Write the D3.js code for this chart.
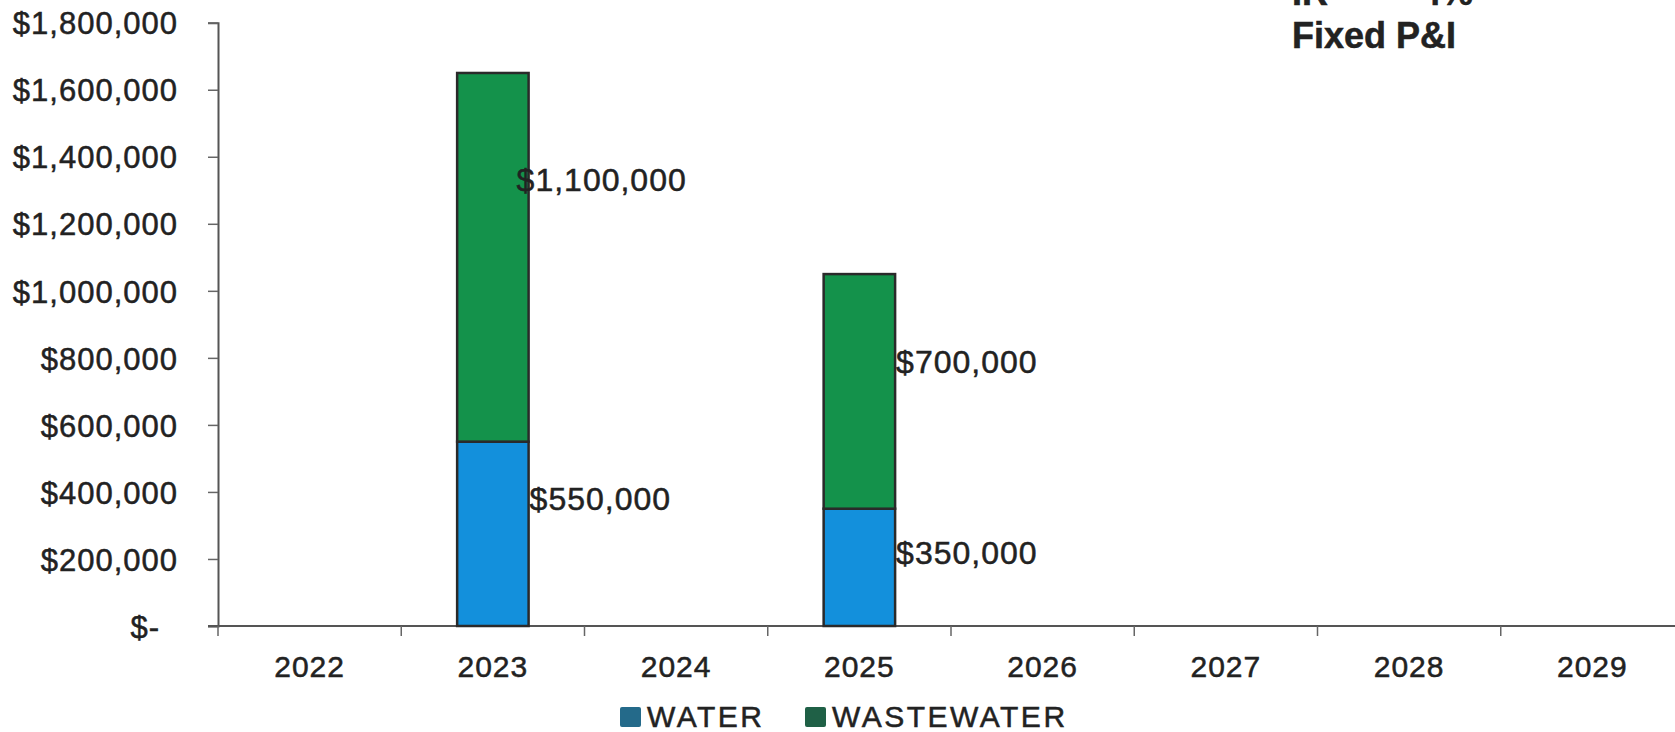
<!DOCTYPE html>
<html>
  <head>
	<meta charset="UTF-8">
    <title>Water / Wastewater stacked bars</title>
	<script src="https://cdn.jsdelivr.net/npm/d3@7"></script>
	<style>
		body { margin: 0; background: #fff; }
		text { font-family: "Liberation Sans", Arial, sans-serif; fill: #222; stroke: #222; stroke-width: 0.5px; }
	</style>
  </head>
  <body>
    <svg width="1675" height="732"></svg>
    <script>
    	// data
    	var years = ["2022", "2023", "2024", "2025", "2026", "2027", "2028", "2029"];
    	var water = [0, 550000, 0, 350000, 0, 0, 0, 0];
    	var wastewater = [0, 1100000, 0, 700000, 0, 0, 0, 0];
    	var seriesNames = ["WATER", "WASTEWATER"];
    	var yTicks = [0, 200000, 400000, 600000, 800000, 1000000, 1200000, 1400000, 1600000, 1800000];

    	var barColors = ["#1390dc", "#14924b"];
    	var legendColors = ["#246a8a", "#1f6046"];

    	var svg = d3.select("svg");

    	var rows = years.map(function(y, i) {
    		return {year: y, WATER: water[i], WASTEWATER: wastewater[i]};
    	});

    	var x = d3.scaleBand()
    		.domain(years)
    		.range([218, 1684])
    		.paddingInner(0.61)
    		.paddingOuter(0.305);

    	var y = d3.scaleLinear()
    		.domain([0, 1800000])
    		.range([626, 22.7]);

    	var fmt = d3.format(",");

    	// y axis
    	var yAxis = svg.append("g")
    		.attr("transform", "translate(218,0)")
    		.call(d3.axisLeft(y).tickValues(yTicks).tickSize(10).tickPadding(30)
    			.tickFormat(function(d) { return d === 0 ? "$-" : "$" + fmt(d); }));
    	yAxis.select(".domain").attr("stroke", "#555").attr("stroke-width", 2);
    	yAxis.selectAll(".tick line").attr("stroke", "#666").attr("stroke-width", 1.5);
    	yAxis.selectAll(".tick text")
    		.style("font-size", "31px")
    		.style("letter-spacing", "1px")
    		.attr("fill", "#222")
    		.attr("dy", "0.36em")
    		.attr("dx", function(d) { return d === 0 ? -18 : 0; });

    	// x axis: ticks on band boundaries
    	var step = x.step();
    	var gx = svg.append("g");
    	gx.append("line")
    		.attr("x1", 208).attr("x2", 1675)
    		.attr("y1", y(0)).attr("y2", y(0))
    		.attr("stroke", "#555").attr("stroke-width", 2);
    	gx.selectAll(".xt")
    		.data(years)
    		.enter()
    		.append("line")
    		.attr("x1", function(d) { return x(d) + x.bandwidth() / 2 - step / 2; })
    		.attr("x2", function(d) { return x(d) + x.bandwidth() / 2 - step / 2; })
    		.attr("y1", y(0)).attr("y2", y(0) + 10)
    		.attr("stroke", "#666").attr("stroke-width", 1.5);
    	gx.selectAll(".xl")
    		.data(years)
    		.enter()
    		.append("text")
    		.attr("x", function(d) { return x(d) + x.bandwidth() / 2; })
    		.attr("y", 677)
    		.attr("text-anchor", "middle")
    		.style("font-size", "30px")
    		.style("letter-spacing", "1px")
    		.text(function(d) { return d; });

    	// stacked bars
    	var stacked = d3.stack().keys(seriesNames)(rows);
    	var layers = svg.selectAll(".layer")
    		.data(stacked)
    		.enter()
    		.append("g")
    		.attr("fill", function(d, i) { return barColors[i]; });

    	layers.selectAll("rect")
    		.data(function(d) { return d.filter(function(p) { return p[1] > p[0]; }); })
    		.enter()
    		.append("rect")
    		.attr("x", function(d) { return x(d.data.year); })
    		.attr("width", x.bandwidth())
    		.attr("y", function(d) { return y(d[1]); })
    		.attr("height", function(d) { return y(d[0]) - y(d[1]); })
    		.attr("stroke", "#2a2a2a")
    		.attr("stroke-width", 2.5);

    	// value labels, to the right of each segment
    	var labelFrac = {"2023 WATER": 0.31, "2023 WASTEWATER": 0.29, "2025 WATER": 0.375, "2025 WASTEWATER": 0.375};
    	var labelDx = {"2023 WASTEWATER": -12};
    	layers.selectAll(".lbl")
    		.data(function(d) {
    			return d.filter(function(p) { return p[1] > p[0]; })
    				.map(function(p) { p.key = p.data.year + " " + d.key; return p; });
    		})
    		.enter()
    		.append("text")
    		.attr("x", function(d) { return x(d.data.year) + x.bandwidth() + (labelDx[d.key] || 1); })
    		.attr("y", function(d) {
    			var top = y(d[1]), bot = y(d[0]);
    			return top + (bot - top) * labelFrac[d.key] + 11;
    		})
    		.style("font-size", "32px")
    		.style("letter-spacing", "1px")
    		.text(function(d) { return "$" + fmt(d[1] - d[0]); });

    	// legend
    	var legend = svg.append("g");
    	var legendX = [620, 805];
    	seriesNames.forEach(function(name, i) {
    		legend.append("rect")
    			.attr("x", legendX[i]).attr("y", 707)
    			.attr("width", 21).attr("height", 20)
    			.attr("rx", 2)
    			.attr("fill", legendColors[i]);
    		legend.append("text")
    			.attr("x", legendX[i] + 27).attr("y", 727)
    			.style("font-size", "30px")
    			.style("letter-spacing", "2.5px")
    			.text(name);
    	});

    	// annotation, top right (first line cut off by the frame)
    	svg.append("text")
    		.attr("x", 1292).attr("y", 5)
    		.style("font-size", "36px").style("font-weight", "bold")
    		.text("IR");
    	svg.append("text")
    		.attr("x", 1473).attr("y", 5)
    		.attr("text-anchor", "end")
    		.style("font-size", "36px").style("font-weight", "bold")
    		.text("4%");
    	svg.append("text")
    		.attr("x", 1292).attr("y", 48)
    		.style("font-size", "36px").style("font-weight", "bold")
    		.text("Fixed P&I");
    </script>
  </body>
</html>
